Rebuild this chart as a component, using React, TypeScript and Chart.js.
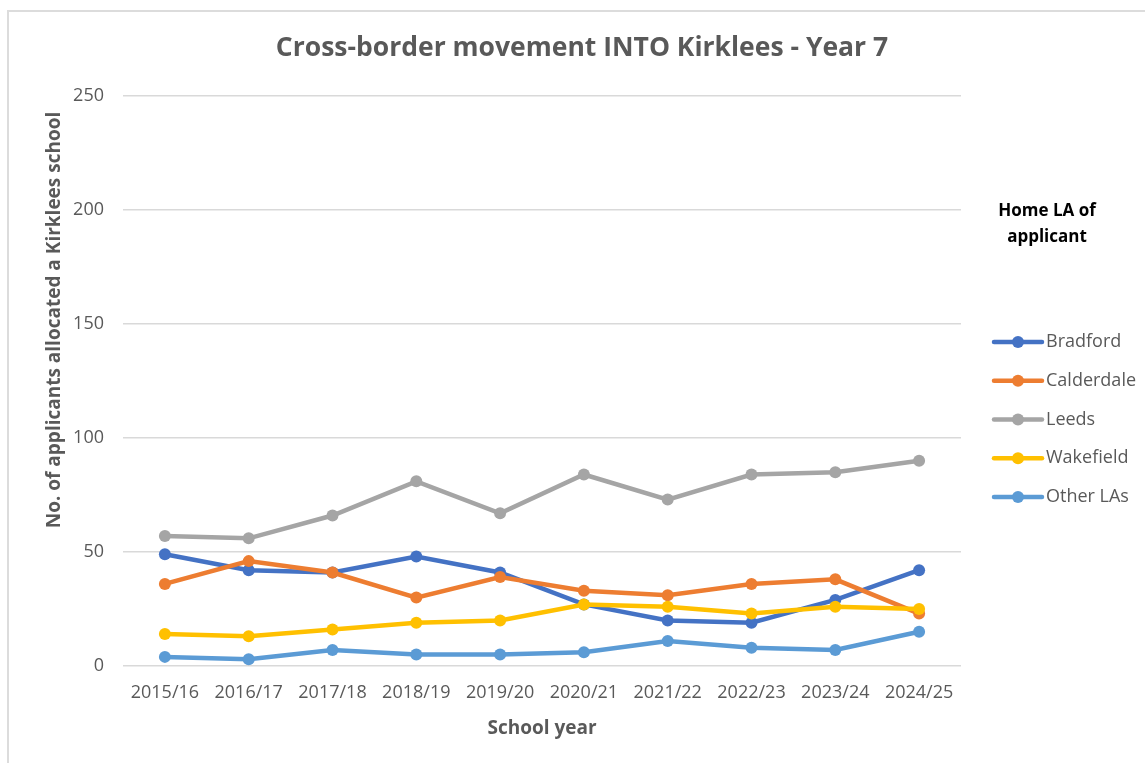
import React, { useEffect, useRef } from "react";
import { Chart, registerables } from "chart.js";

Chart.register(...registerables);

const categories = ["2015/16", "2016/17", "2017/18", "2018/19", "2019/20", "2020/21", "2021/22", "2022/23", "2023/24", "2024/25"];
const seriesNames = ["Bradford", "Calderdale", "Leeds", "Wakefield", "Other LAs"];
const bradford = [49, 42, 41, 48, 41, 27, 20, 19, 29, 42];
const calderdale = [36, 46, 41, 30, 39, 33, 31, 36, 38, 23];
const leeds = [57, 56, 66, 81, 67, 84, 73, 84, 85, 90];
const wakefield = [14, 13, 16, 19, 20, 27, 26, 23, 26, 25];
const otherLAs = [4, 3, 7, 5, 5, 6, 11, 8, 7, 15];
const seriesColors = ["#4472C4", "#ED7D31", "#A5A5A5", "#FFC000", "#5B9BD5"];
const yTicks = [0, 50, 100, 150, 200, 250];
const chartTitle = "Cross-border movement INTO Kirklees - Year 7";
const xTitle = "School year";
const yTitle = "No. of applicants allocated a Kirklees school";
const legendTitle = ["Home LA of", "applicant"];

const FONT = "'Open Sans', 'DejaVu Sans', sans-serif";
const TEXT = "#595959";

const customDecor = {
  id: "customDecor",
  afterDraw(chart: any) {
    const ctx = chart.ctx;
    const area = chart.chartArea;
    ctx.save();
    // y-axis title
    ctx.save();
    ctx.translate(area.left - 68, area.top + 224);
    ctx.rotate(-Math.PI / 2);
    ctx.fillStyle = TEXT;
    ctx.font = `bold 19px ${FONT}`;
    ctx.textAlign = "center";
    ctx.textBaseline = "middle";
    ctx.fillText(yTitle, 0, 0);
    ctx.restore();
    // legend
    const baseX = area.right + 33;
    ctx.fillStyle = "#000000";
    ctx.font = `bold 17px ${FONT}`;
    ctx.textAlign = "center";
    ctx.textBaseline = "middle";
    legendTitle.forEach((line, i) => {
      ctx.fillText(line, baseX + 53, area.top + 115 + i * 26);
    });
    chart.data.datasets.forEach((ds: any, i: number) => {
      const y = area.top + 246 + i * 38.75;
      ctx.strokeStyle = ds.borderColor;
      ctx.lineWidth = 4.5;
      ctx.lineCap = "round";
      ctx.beginPath();
      ctx.moveTo(baseX, y);
      ctx.lineTo(baseX + 48, y);
      ctx.stroke();
      ctx.fillStyle = ds.backgroundColor;
      ctx.beginPath();
      ctx.arc(baseX + 24, y, 6, 0, Math.PI * 2);
      ctx.fill();
      ctx.fillStyle = TEXT;
      ctx.font = `18px ${FONT}`;
      ctx.textAlign = "left";
      ctx.fillText(ds.label, baseX + 52, y);
    });
    ctx.restore();
  },
};

export default function App() {
  const canvasRef = useRef<HTMLCanvasElement>(null);

  useEffect(() => {
    const seriesData = [bradford, calderdale, leeds, wakefield, otherLAs];
    const chart = new Chart(canvasRef.current as HTMLCanvasElement, {
      type: "line",
      data: {
        labels: categories,
        datasets: seriesNames.map((name, i) => ({
          label: name,
          data: seriesData[i],
          borderColor: seriesColors[i],
          backgroundColor: seriesColors[i],
          pointBackgroundColor: seriesColors[i],
          pointBorderColor: seriesColors[i],
          borderWidth: 4.5,
          pointRadius: 6,
          pointBorderWidth: 0,
          tension: 0,
          order: seriesNames.length - i,
        })),
      },
      options: {
        responsive: false,
        animation: false,
        layout: { padding: { top: 12, right: 0, bottom: 0, left: 19 } },
        plugins: {
          legend: { display: false },
          tooltip: { enabled: false },
          title: {
            display: true,
            text: chartTitle,
            color: TEXT,
            font: { family: FONT, size: 26.5, weight: "bold" },
            padding: { top: 20.1, bottom: 32.1 },
          },
        },
        scales: {
          x: {
            offset: true,
            grid: { display: false, drawTicks: false },
            border: { display: false },
            ticks: { color: TEXT, font: { family: FONT, size: 18 }, padding: 16.2, maxRotation: 0 },
            title: {
              display: true,
              text: xTitle,
              color: TEXT,
              font: { family: FONT, size: 19, weight: "bold" },
              padding: { top: 0, bottom: 22.6 },
            },
            afterFit: (scale: any) => {
              scale.height = 97;
            },
          },
          y: {
            min: 0,
            max: 250,
            afterBuildTicks: (scale: any) => {
              scale.ticks = yTicks.map((v) => ({ value: v }));
            },
            grid: { color: "#d9d9d9", lineWidth: 1.5, drawTicks: false },
            border: { display: false },
            ticks: { color: TEXT, font: { family: FONT, size: 18 }, padding: 19 },
            afterFit: (scale: any) => {
              scale.width = 104;
            },
          },
          yRight: {
            position: "right",
            display: true,
            grid: { display: false, drawTicks: false },
            border: { display: false },
            ticks: { display: false },
            afterFit: (scale: any) => {
              scale.width = 184;
            },
          },
        },
      },
      plugins: [customDecor],
    });
    return () => chart.destroy();
  }, []);

  return (
    <div style={{ position: "fixed", inset: 0, overflow: "hidden", background: "#ffffff" }}>
      <div
        style={{
          position: "absolute",
          left: 7,
          top: 10,
          width: 1200,
          height: 800,
          borderLeft: "2px solid #dcdcdc",
          borderTop: "2px solid #dcdcdc",
        }}
      />
      <canvas
        ref={canvasRef}
        width={1145}
        height={763}
        style={{ position: "absolute", left: 0, top: 0, width: 1145, height: 763 }}
      />
    </div>
  );
}
